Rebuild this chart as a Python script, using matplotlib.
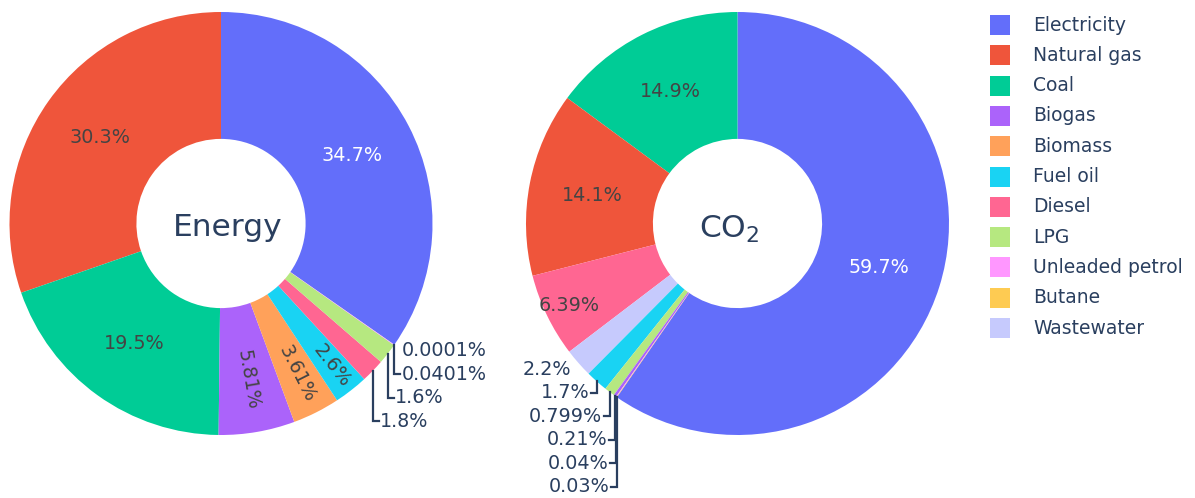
import matplotlib
matplotlib.use("Agg")
import matplotlib.pyplot as plt
from matplotlib.patches import Rectangle
import numpy as np

# ---- data -------------------------------------------------------------
categories = ["Electricity", "Natural gas", "Coal", "Biogas", "Biomass", "Fuel oil",
              "Diesel", "LPG", "Unleaded petrol", "Butane", "Wastewater"]
energy_pct = [34.7, 30.3, 19.5, 5.81, 3.61, 2.6, 1.8, 1.6, 0.0401, 0.0001, 0.0]
co2_pct = [59.7, 14.1, 14.9, 0.21, 0.0, 1.7, 6.39, 0.799, 0.04, 0.03, 2.2]
colors = ["#636EFA", "#EF553B", "#00CC96", "#AB63FA", "#FFA15A", "#19D3F3",
          "#FF6692", "#B6E880", "#FF97FF", "#FECB52", "#C6CAFD"]

# ---- style ------------------------------------------------------------
W, H, DPI = 1195, 498, 100
INK = "#2a3f5f"
R_PX = 211.5
HOLE = 0.4
FS = 13.8
plt.rcParams["font.family"] = ["DejaVu Sans"]
plt.rcParams["mathtext.default"] = "regular"

fig = plt.figure(figsize=(W / DPI, H / DPI), dpi=DPI)


def fmt(v):
    return "{:.3g}%".format(v)


def text_color(hexcol):
    r, g, b = (int(hexcol[i:i + 2], 16) for i in (1, 3, 5))
    return "#444444" if (r * 299 + g * 587 + b * 114) / 1000 >= 128 else "white"


def draw_donut(center_px, values, radial_r):
    cx, cy = center_px
    ax = fig.add_axes([(cx - R_PX) / W, (H - cy - R_PX) / H, 2 * R_PX / W, 2 * R_PX / H])
    order = sorted([i for i in range(len(values)) if values[i] > 0], key=lambda i: -values[i])
    vals = [values[i] for i in order]
    cols = [colors[i] for i in order]
    total = sum(vals)
    start = 90 - 360 * vals[0] / total
    wedges, _ = ax.pie(vals, colors=cols, startangle=start, counterclock=True, radius=1,
                       wedgeprops=dict(width=1 - HOLE, linewidth=0))
    ax.set_xlim(-1, 1)
    ax.set_ylim(-1, 1)
    ax.set_axis_off()

    px = 1.0 / R_PX
    outside = []
    for w, i, v in zip(wedges, order, vals):
        th = np.deg2rad((w.theta1 + w.theta2) / 2)
        c, s = np.cos(th), np.sin(th)
        name = categories[i]
        if v >= 6:
            r = 0.7 if v >= 10 else 0.885
            ax.text(r * c, r * s, fmt(v), ha="center", va="center", fontsize=FS,
                    color=text_color(colors[i]))
        elif v >= 2.5:
            r = radial_r.get(name, 0.75)
            rot = np.rad2deg(th)
            rot = (rot + 180) % 360 - 180
            if rot > 90:
                rot -= 180
            elif rot < -90:
                rot += 180
            ax.text(r * c, r * s, fmt(v), ha="center", va="center", fontsize=FS,
                    color=text_color(colors[i]), rotation=rot, rotation_mode="anchor")
        else:
            outside.append((c, s, v))

    for side in (1, -1):
        items = sorted([o for o in outside if np.sign(o[0]) == side], key=lambda o: -o[1])
        prev = None
        for c, s, v in items:
            natural = s - 6 * px
            y = natural if prev is None else min(natural, prev - 23.5 * px)
            prev = y
            if y < natural - 1e-6:
                ax.plot([c, c, c + side * 6 * px], [s, y, y], color=INK, lw=1.6,
                        solid_joinstyle="miter", clip_on=False)
            ax.text(c + side * 7.5 * px, y, fmt(v), ha="left" if side > 0 else "right",
                    va="center", fontsize=FS, color=INK, clip_on=False)
    return ax


draw_donut((221, 223.5), energy_pct, {"Biogas": 0.75, "Biomass": 0.795, "Fuel oil": 0.855})
draw_donut((737.5, 223.5), co2_pct, {})

# overlay in pixel coordinates for centre titles and legend
ov = fig.add_axes([0, 0, 1, 1])
ov.set_xlim(0, W)
ov.set_ylim(H, 0)
ov.set_axis_off()
ov.patch.set_alpha(0)

ov.text(228, 227, "Energy", ha="center", va="center", fontsize=22.5, color=INK)
ov.text(729.5, 229, "CO$_2$", ha="center", va="center", fontsize=22.5, color=INK)

for k, (name, col) in enumerate(zip(categories, colors)):
    yc = 25 + 30.3 * k
    ov.add_patch(Rectangle((990, yc - 10), 20, 20, facecolor=col, edgecolor="none"))
    ov.text(1033, yc, name, ha="left", va="center", fontsize=13.5, color=INK)

fig.savefig("out.png", dpi=DPI)
